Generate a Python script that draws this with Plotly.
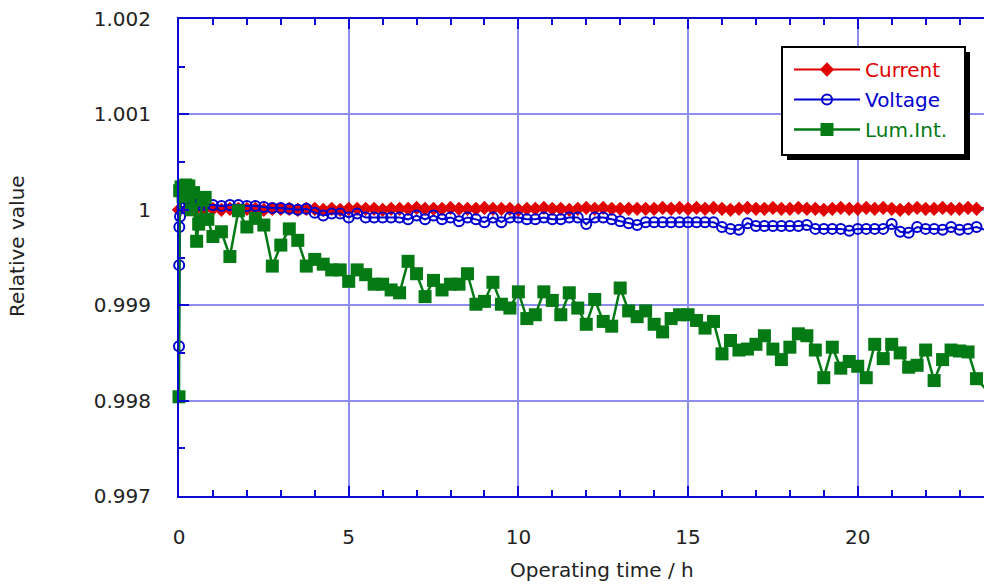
import plotly.graph_objects as go

# ---------------- data ----------------
grid_t = [0.25, 0.5, 0.75, 1.0, 1.25, 1.5, 1.75, 2.0, 2.25, 2.5, 2.75, 3.0, 3.25, 3.5, 3.75,
          4.0, 4.25, 4.5, 4.75, 5.0, 5.25, 5.5, 5.75, 6.0, 6.25, 6.5, 6.75, 7.0, 7.25, 7.5, 7.75,
          8.0, 8.25, 8.5, 8.75, 9.0, 9.25, 9.5, 9.75, 10.0, 10.25, 10.5, 10.75, 11.0, 11.25, 11.5,
          11.75, 12.0, 12.25, 12.5, 12.75, 13.0, 13.25, 13.5, 13.75, 14.0, 14.25, 14.5, 14.75,
          15.0, 15.25, 15.5, 15.75, 16.0, 16.25, 16.5, 16.75, 17.0, 17.25, 17.5, 17.75, 18.0,
          18.25, 18.5, 18.75, 19.0, 19.25, 19.5, 19.75, 20.0, 20.25, 20.5, 20.75, 21.0, 21.25,
          21.5, 21.75, 22.0, 22.25, 22.5, 22.75, 23.0, 23.25, 23.5, 23.75]

# Current
cur_t = [0.0] + grid_t
cur_v = [1.00000,
         1.00001, 1.00001, 1.00001, 1.00001, 1.00000, 1.00001, 1.00001, 1.00001, 1.00001, 1.00000,
         1.00001, 1.00001, 1.00001, 1.00000, 1.00001, 1.00001, 1.00000, 1.00001, 1.00000, 1.00001,
         1.00001, 1.00001, 1.00001, 1.00000, 1.00001, 1.00001, 1.00001, 1.00002, 1.00001, 1.00001,
         1.00001, 1.00002, 1.00001, 1.00001, 1.00001, 1.00002, 1.00001, 1.00001, 1.00001, 1.00000,
         1.00001, 1.00001, 1.00002, 1.00001, 1.00001, 1.00000, 1.00001, 1.00002, 1.00001, 1.00002,
         1.00001, 1.00001, 1.00001, 1.00001, 1.00001, 1.00001, 1.00002, 1.00001, 1.00002, 1.00001,
         1.00002, 1.00001, 1.00002, 1.00001, 1.00000, 1.00001, 1.00002, 1.00001, 1.00001, 1.00002,
         1.00001, 1.00001, 1.00002, 1.00001, 1.00001, 1.00000, 1.00001, 1.00002, 1.00001, 1.00001,
         1.00002, 1.00001, 1.00002, 1.00001, 1.00000, 1.00001, 1.00002, 1.00001, 1.00001, 1.00002,
         1.00001, 1.00001, 1.00002, 1.00001, 1.00002]

# Voltage
volt_t = [0.0, 0.005, 0.01, 0.03, 0.1, 0.2, 0.3, 0.4, 0.5, 0.6] + grid_t[2:]
volt_v = [0.99857, 0.99942, 0.99982, 0.99993, 1.00002, 1.00005, 1.00006, 1.00005, 1.00006, 1.00005,
          1.00005, 1.00005, 1.00004, 1.00005, 1.00005, 1.00004, 1.00004, 1.00003, 1.00002,
          1.00002, 1.00001, 1.00000, 1.00001, 0.99997, 0.99994, 0.99996, 0.99996, 0.99992,
          0.99996, 0.99992, 0.99992, 0.99992, 0.99992, 0.99992, 0.99990, 0.99994, 0.99990,
          0.99994, 0.99990, 0.99992, 0.99988, 0.99992, 0.99990, 0.99987, 0.99992, 0.99987,
          0.99992, 0.99992, 0.99990, 0.99990, 0.99992, 0.99990, 0.99990, 0.99992, 0.99992,
          0.99985, 0.99992, 0.99992, 0.99990, 0.99988, 0.99986, 0.99984, 0.99987, 0.99987,
          0.99987, 0.99987, 0.99987, 0.99987, 0.99987, 0.99987, 0.99987, 0.99982, 0.99980,
          0.99979, 0.99986, 0.99983, 0.99983, 0.99983, 0.99983, 0.99983, 0.99983, 0.99984,
          0.99980, 0.99980, 0.99980, 0.99980, 0.99978, 0.99980, 0.99980, 0.99980, 0.99980,
          0.99985, 0.99977, 0.99976, 0.99982, 0.99980, 0.99980, 0.99979, 0.99982, 0.99979,
          0.99980, 0.99982, 0.99979]

# Luminous intensity
lum_t = [0.0, 0.02, 0.06, 0.12, 0.2, 0.29, 0.37, 0.43, 0.52, 0.58, 0.62, 0.7, 0.77, 0.85] + grid_t[3:]
lum_v = [0.99804, 1.00020, 1.00024, 1.00014, 1.00026, 1.00025, 1.00000, 1.00018, 0.99967, 0.99985,
         0.99990, 1.00010, 1.00013, 0.99990,
         0.99972, 0.99977, 0.99951, 0.99999, 0.99982, 0.99991, 0.99984,
         0.99941, 0.99963, 0.99980, 0.99968, 0.99941, 0.99948, 0.99943, 0.99937, 0.99937,
         0.99925, 0.99937, 0.99932, 0.99922, 0.99922, 0.99916, 0.99913, 0.99946, 0.99933,
         0.99909, 0.99926, 0.99916, 0.99922, 0.99922, 0.99933, 0.99901, 0.99904, 0.99924,
         0.99901, 0.99897, 0.99914, 0.99886, 0.99890, 0.99914, 0.99905, 0.99890, 0.99913,
         0.99897, 0.99880, 0.99906, 0.99883, 0.99878, 0.99918, 0.99894, 0.99888, 0.99894,
         0.99880, 0.99872, 0.99886, 0.99890, 0.99890, 0.99884, 0.99876, 0.99883, 0.99849,
         0.99863, 0.99853, 0.99854, 0.99859, 0.99868, 0.99854, 0.99843, 0.99856, 0.99870,
         0.99868, 0.99853, 0.99824, 0.99856, 0.99834, 0.99841, 0.99836, 0.99824, 0.99859,
         0.99844, 0.99859, 0.99850, 0.99835, 0.99837, 0.99853, 0.99821, 0.99843, 0.99853,
         0.99852, 0.99851, 0.99823, 0.99813]

y_tickvals = [0.997, 0.998, 0.999, 1.000, 1.001, 1.002]
y_ticktext = ["0.997", "0.998", "0.999", "1", "1.001", "1.002"]
x_tickvals = [0, 5, 10, 15, 20]
x_ticktext = ["0", "5", "10", "15", "20"]

# ---------------- styles ----------------
FONT = "DejaVu Sans"
AXIS_BLUE = "#0a0ad2"
GRID = "#8e8ef0"
RED = "#e00000"
BLUE = "#0000d0"
GREEN = "#037a14"

fig = go.Figure()
fig.add_trace(go.Scatter(
    x=cur_t, y=cur_v, mode="lines+markers", cliponaxis=False, legendgroup="a",
    name=f"<span style='color:{RED}'>Current</span>",
    line=dict(color=RED, width=2),
    marker=dict(symbol="diamond", size=11, color=RED)))
fig.add_trace(go.Scatter(
    x=volt_t, y=volt_v, mode="lines+markers", cliponaxis=False, legendgroup="b",
    name=f"<span style='color:{BLUE}'>Voltage</span>",
    line=dict(color=BLUE, width=2),
    marker=dict(symbol="circle-open", size=10, color=BLUE, line=dict(width=2, color=BLUE))))
fig.add_trace(go.Scatter(
    x=lum_t, y=lum_v, mode="lines+markers", cliponaxis=False, legendgroup="c",
    name=f"<span style='color:{GREEN}'>Lum.Int.</span>",
    line=dict(color=GREEN, width=2.5),
    marker=dict(symbol="square", size=13, color=GREEN)))

L, R, T, B = 179, 0, 19, 90
W, H = 984, 586
pw, ph = W - L - R, H - T - B

def px_x(x):
    return (x - L) / pw

def px_y(y):
    return (H - B - y) / ph

# legend shadow + frame
fig.add_shape(type="rect", xref="paper", yref="paper",
              x0=px_x(787), x1=px_x(970), y0=px_y(160), y1=px_y(52),
              fillcolor="black", line=dict(width=0), layer="above")
fig.add_shape(type="rect", xref="paper", yref="paper",
              x0=px_x(782), x1=px_x(965), y0=px_y(155), y1=px_y(47),
              fillcolor="white", line=dict(width=2, color="black"), layer="above")

fig.add_annotation(text="Relative value", xref="paper", yref="paper",
                   x=px_x(17), y=px_y(246), textangle=-90, showarrow=False,
                   xanchor="center", yanchor="middle",
                   font=dict(family=FONT, size=20, color="#222222"))
fig.add_annotation(text="Operating time / h", xref="paper", yref="paper",
                   x=px_x(602), y=px_y(570), showarrow=False,
                   xanchor="center", yanchor="middle",
                   font=dict(family=FONT, size=20, color="#222222"))

fig.update_layout(
    width=W, height=H,
    margin=dict(l=L, r=R, t=T, b=B, pad=0),
    paper_bgcolor="white", plot_bgcolor="white",
    font=dict(family=FONT, size=20, color="#222222"),
    showlegend=True,
    legend=dict(x=px_x(789), y=px_y(50), xanchor="left", yanchor="top",
                bgcolor="rgba(0,0,0,0)", borderwidth=0,
                font=dict(family=FONT, size=20), itemwidth=66,
                tracegroupgap=1),
    xaxis=dict(range=[0, 23.72], showline=True, linecolor=AXIS_BLUE, linewidth=2,
               mirror="ticks", ticks="inside", ticklen=10, tickwidth=2, tickcolor=AXIS_BLUE,
               tickvals=x_tickvals, ticktext=x_ticktext, showgrid=True, gridcolor=GRID,
               gridwidth=2, zeroline=False, ticklabelstandoff=22,
               minor=dict(dtick=1, ticks="inside", ticklen=6, tickwidth=2,
                          tickcolor=AXIS_BLUE, showgrid=False)),
    yaxis=dict(range=[0.997, 1.002], showline=True, linecolor=AXIS_BLUE, linewidth=2,
               mirror=False, ticks="inside", ticklen=10, tickwidth=2, tickcolor=AXIS_BLUE,
               tickvals=y_tickvals, ticktext=y_ticktext, showgrid=True, gridcolor=GRID,
               gridwidth=2, zeroline=False, ticklabelstandoff=22,
               minor=dict(dtick=0.0005, tick0=0.997, ticks="inside", ticklen=6, tickwidth=2,
                          tickcolor=AXIS_BLUE, showgrid=False)),
)

fig.write_html("out.html")
